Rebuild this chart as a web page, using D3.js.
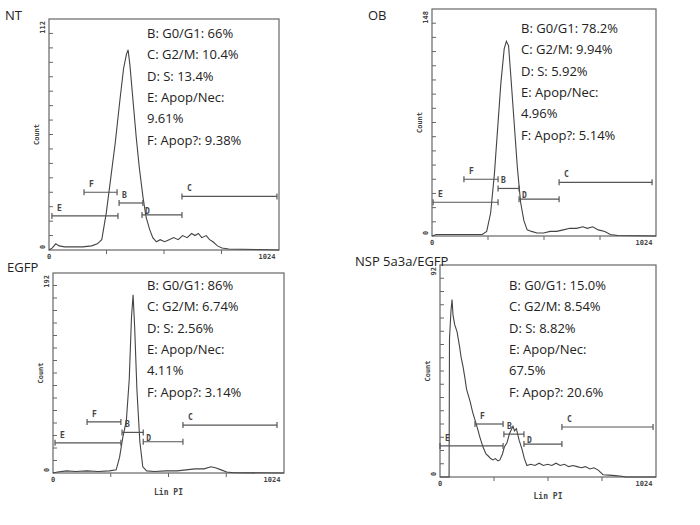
<!DOCTYPE html>
<html><head><meta charset="utf-8">
<script src="https://cdn.jsdelivr.net/npm/d3@7"></script>
<style>body{margin:0;background:#fff}</style>
</head><body>
<svg id="svg" width="700" height="525"></svg>
<script>
const svg = d3.select("#svg");

// histogram traces: [channel, count]
const ntCurve = [[0,0],[15,1],[30,3],[45,2],[70,1.5],[110,1.5],[150,1.5],[190,2],[215,3],[235,5],[255,18],[275,35],[295,52],[315,72],[332,88],[345,95],[352,97],[360,90],[372,75],[388,55],[402,40],[418,26],[432,16],[448,10],[462,6],[478,4],[495,5],[515,4],[535,5],[555,6],[575,5],[595,7],[615,6],[635,8],[650,7],[665,8],[680,6],[700,7],[715,5],[730,4],[750,2],[770,1],[800,0.5],[1024,0]];
const obCurve = [[0,0],[20,1],[60,1],[120,1],[180,1],[230,1],[250,3],[268,15],[285,40],[300,70],[315,100],[330,122],[340,127],[350,124],[360,105],[375,75],[390,45],[405,22],[420,10],[435,4],[455,3],[480,2],[510,2],[540,3],[570,3],[600,4],[630,5],[660,5],[690,6],[710,5],[735,6],[760,4],[790,3],[815,1],[850,0.3],[1024,0]];
const egCurve = [[0,0],[20,1],[60,2],[100,1.5],[150,2],[200,1.5],[250,2],[280,3],[295,15],[310,35],[325,50],[338,90],[348,150],[355,171],[362,140],[372,80],[385,30],[398,6],[415,2],[450,1.5],[500,2],[550,2],[590,3],[630,4],[670,4],[700,6],[720,5],[745,3],[770,1],[800,0.3],[1024,0]];
const nspCurve = [[0,0],[43,0],[45,60],[52,72],[57,77],[62,70],[70,66],[81,63],[92,57],[100,52],[109,48],[118,43],[126,38],[142,33],[155,28],[165,25],[175,22],[190,17],[204,13],[218,10],[230,9],[240,8],[251,7.4],[262,8],[275,7],[284,7.4],[296,10],[305,13],[318,15],[330,19],[346,22],[353,20],[362,21],[375,16],[389,12],[400,8],[412,5],[430,5.5],[450,5],[470,6],[490,5],[510,5.5],[530,5],[550,6],[570,5],[590,5.5],[610,4.5],[630,5],[650,4.5],[670,4],[690,4.5],[710,3.5],[730,4],[750,3],[773,1],[800,0.8],[830,0.6],[862,0.3],[880,0],[1024,0]];

// gates: [label, from, to, count]
const ntGates = [["E",13,307,16.5],["F",156,303,28],["B",312,418,22.8],["D",414,592,17],["C",592,1015,26]];
const obGates = [["E",5,302,22],["F",146,302,37],["B",302,398,31],["D",398,581,24],["C",581,1006,35]];
const egGates = [["E",9,301,29],["F",151,301,49],["B",306,400,39],["D",400,576,30],["C",576,993,46]];
const nspGates = [["E",0,299,13.5],["F",166,299,23],["B",303,398,18.6],["D",398,578,14.3],["C",578,1010,21.7]];

const ntStats = ["B: G0/G1: 66%","C: G2/M: 10.4%","D: S: 13.4%","E: Apop/Nec:","9.61%","F: Apop?: 9.38%"];
const obStats = ["B: G0/G1: 78.2%","C: G2/M: 9.94%","D: S: 5.92%","E: Apop/Nec:","4.96%","F: Apop?: 5.14%"];
const egStats = ["B: G0/G1: 86%","C: G2/M: 6.74%","D: S: 2.56%","E: Apop/Nec:","4.11%","F: Apop?: 3.14%"];
const nspStats = ["B: G0/G1: 15.0%","C: G2/M: 8.54%","D: S: 8.82%","E: Apop/Nec:","67.5%","F: Apop?: 20.6%"];

const panels = [
  {title:"NT", tx:5, ty:20, box:[49,19,279,250], ymax:112, curve:ntCurve, gates:ntGates, stats:ntStats, sx:147, sy:38, xlab:false},
  {title:"OB", tx:368, ty:20, box:[432,9,656,236], ymax:148, curve:obCurve, gates:obGates, stats:obStats, sx:521, sy:33, xlab:false},
  {title:"EGFP", tx:7, ty:272, box:[53,273,284,473], ymax:192, curve:egCurve, gates:egGates, stats:egStats, sx:147, sy:290, xlab:true},
  {title:"NSP 5a3a/EGFP", tx:355, ty:266, box:[440,265,656,477], ymax:92, curve:nspCurve, gates:nspGates, stats:nspStats, sx:509, sy:290, xlab:true}
];

const ink = "#333";
const txtFont = "Open Sans, sans-serif";

panels.forEach(p => {
  const [x0,y0,x1,y1] = p.box;
  const x = d3.scaleLinear().domain([0,1024]).range([x0,x1]);
  const y = d3.scaleLinear().domain([0,p.ymax]).range([y1,y0]);
  const g = svg.append("g");

  g.append("rect").attr("x",x0).attr("y",y0).attr("width",x1-x0).attr("height",y1-y0)
    .attr("fill","none").attr("stroke","#666").attr("stroke-width",1.2);

  // inner ticks on count axis
  g.selectAll(".yt").data(d3.range(1,16).map(i => p.ymax*i/16)).join("line")
    .attr("x1",x0).attr("x2",x0+4).attr("y1",d=>y(d)).attr("y2",d=>y(d))
    .attr("stroke","#666");
  g.selectAll(".xt").data([256,512,768]).join("line")
    .attr("x1",d=>x(d)).attr("x2",d=>x(d)).attr("y1",y1).attr("y2",y1+4)
    .attr("stroke","#666");

  g.append("path").datum(p.curve)
    .attr("d", d3.line().x(d=>x(d[0])).y(d=>y(d[1])))
    .attr("fill","none").attr("stroke","#444").attr("stroke-width",1.1);

  p.gates.forEach(([lab,a,b,c]) => {
    const gy = y(c);
    g.append("line").attr("x1",x(a)).attr("x2",x(b)).attr("y1",gy).attr("y2",gy).attr("stroke","#555").attr("stroke-width",1.2);
    [a,b].forEach(v => g.append("line").attr("x1",x(v)).attr("x2",x(v)).attr("y1",gy-3).attr("y2",gy+3).attr("stroke","#555").attr("stroke-width",1.2));
    const lx = (lab==="B"||lab==="D") ? x(a)+3 : x(a)+5;
    const ly = lab==="D" ? gy-1 : gy-5;
    g.append("text").attr("x",lx).attr("y",ly).attr("font-family","DejaVu Sans Mono, monospace")
      .attr("font-weight","bold").attr("font-size",8).attr("fill","#444").text(lab);
  });

  const mono = "DejaVu Sans Mono, monospace";
  g.append("text").attr("transform",`translate(${x0-4},${y0+2}) rotate(-90)`).attr("text-anchor","end")
    .attr("font-family",mono).attr("font-weight","bold").attr("font-size",7).attr("fill","#444").text(p.ymax);
  g.append("text").attr("transform",`translate(${x0-4},${y1-1}) rotate(-90)`)
    .attr("font-family",mono).attr("font-weight","bold").attr("font-size",7).attr("fill","#444").text("0");
  g.append("text").attr("transform",`translate(${x0-10},${(y0+y1)/2}) rotate(-90)`).attr("text-anchor","middle")
    .attr("font-family",mono).attr("font-weight","bold").attr("font-size",7).attr("fill","#444").text("Count");
  g.append("text").attr("x",x0).attr("y",y1+9).attr("text-anchor","middle")
    .attr("font-family",mono).attr("font-weight","bold").attr("font-size",7).attr("fill","#444").text("0");
  g.append("text").attr("x",x1-12).attr("y",y1+9).attr("text-anchor","middle")
    .attr("font-family",mono).attr("font-weight","bold").attr("font-size",7).attr("fill","#444").text("1024");
  if (p.xlab) g.append("text").attr("x",(x0+x1)/2).attr("y",y1+22).attr("text-anchor","middle")
    .attr("font-family",mono).attr("font-weight","bold").attr("font-size",8).attr("fill","#444").text("Lin PI");

  g.append("text").attr("x",p.tx).attr("y",p.ty).attr("font-family",txtFont).attr("font-size",13).attr("fill","#222").text(p.title);
  g.selectAll(".st").data(p.stats).join("text")
    .attr("x",p.sx).attr("y",(d,i)=>p.sy+i*21.3).attr("font-family",txtFont).attr("font-size",13).attr("fill","#222").text(d=>d);
});
</script>
</body></html>
